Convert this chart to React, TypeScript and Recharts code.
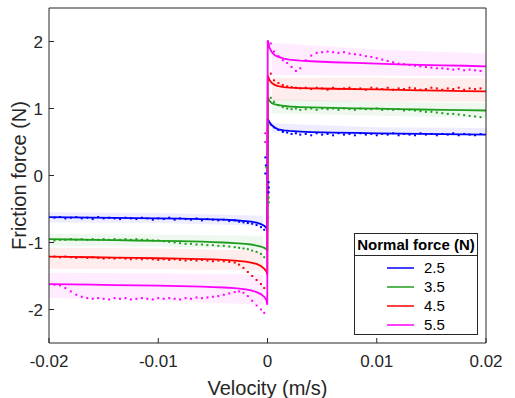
import { ComposedChart, Line, Area, Scatter, XAxis, YAxis, Label } from 'recharts';

// velocity grid of the fitted friction model (m/s)
const velocity = [
  -0.02, -0.018, -0.016, -0.014, -0.012, -0.01, -0.008, -0.006, -0.005, -0.004, -0.003, -0.002, -0.0015, -0.001, -0.0006, -0.0003, -0.0001, -0.00002,
  0.00002, 0.0002, 0.0004, 0.0007, 0.001, 0.0015, 0.002, 0.003, 0.004, 0.006, 0.008, 0.01, 0.012, 0.014, 0.016, 0.018, 0.02,
];

// model curves, one per normal force
const fitBlue = [
  -0.62, -0.624, -0.628, -0.632, -0.636, -0.64, -0.645, -0.65, -0.655, -0.66, -0.668, -0.68, -0.69, -0.705, -0.725, -0.75, -0.78, -0.82,
  0.85, 0.79, 0.75, 0.71, 0.69, 0.675, 0.665, 0.655, 0.648, 0.64, 0.635, 0.63, 0.626, 0.622, 0.618, 0.614, 0.61,
];
const fitGreen = [
  -0.95, -0.955, -0.96, -0.965, -0.97, -0.975, -0.98, -0.988, -0.993, -1.0, -1.008, -1.02, -1.03, -1.045, -1.06, -1.08, -1.1, -1.13,
  1.17, 1.11, 1.08, 1.06, 1.05, 1.04, 1.03, 1.022, 1.016, 1.01, 1.003, 0.997, 0.99, 0.985, 0.98, 0.975, 0.97,
];
const fitRed = [
  -1.21, -1.215, -1.22, -1.225, -1.23, -1.235, -1.24, -1.248, -1.253, -1.26, -1.27, -1.285, -1.3, -1.32, -1.35, -1.39, -1.43, -1.48,
  1.49, 1.42, 1.38, 1.35, 1.335, 1.32, 1.312, 1.305, 1.3, 1.295, 1.29, 1.284, 1.278, 1.272, 1.266, 1.26, 1.255,
];
const fitMagenta = [
  -1.62, -1.625, -1.63, -1.635, -1.64, -1.645, -1.65, -1.66, -1.665, -1.672, -1.682, -1.7, -1.715, -1.74, -1.77, -1.81, -1.86, -1.93,
  2.02, 1.9, 1.84, 1.79, 1.77, 1.745, 1.73, 1.715, 1.705, 1.69, 1.68, 1.67, 1.66, 1.652, 1.645, 1.638, 1.63,
];

// confidence bands (first 3 = negative side, last 3 = positive side)
const bandV = [-0.02, -0.01, -0.0004, 0.0004, 0.01, 0.02];
const blueLo = [-0.7, -0.71, -0.75, 0.64, 0.63, 0.62];
const blueHi = [-0.55, -0.56, -0.6, 0.78, 0.72, 0.71];
const greenLo = [-1.05, -1.06, -1.1, 0.93, 0.89, 0.86];
const greenHi = [-0.87, -0.88, -0.9, 1.14, 1.1, 1.08];
const redLo = [-1.39, -1.4, -1.42, 1.12, 1.1, 1.1];
const redHi = [-1.08, -1.09, -1.12, 1.46, 1.46, 1.45];
const magentaLo = [-1.83, -1.87, -1.93, 1.5, 1.49, 1.48];
const magentaHi = [-1.45, -1.46, -1.48, 1.98, 1.88, 1.82];

// measured points
const measVPos = [
  0.0003, 0.0006, 0.001, 0.0014, 0.0018, 0.0022, 0.0026, 0.003, 0.0035, 0.004, 0.0045, 0.005, 0.0055, 0.006, 0.0065, 0.007, 0.0075, 0.008, 0.0085, 0.009,
  0.0095, 0.01, 0.0105, 0.011, 0.0115, 0.012, 0.0125, 0.013, 0.0135, 0.014, 0.0145, 0.015, 0.0155, 0.016, 0.0165, 0.017, 0.0175, 0.018, 0.0185, 0.019, 0.0195,
];
const measVNeg = [
  -0.0195, -0.019, -0.0185, -0.018, -0.0175, -0.017, -0.0165, -0.016, -0.0155, -0.015, -0.0145, -0.014, -0.0135, -0.013, -0.0125, -0.012, -0.0115, -0.011, -0.0105, -0.01,
  -0.0095, -0.009, -0.0085, -0.008, -0.0075, -0.007, -0.0065, -0.006, -0.0055, -0.005, -0.0045, -0.004, -0.0035, -0.003, -0.0026, -0.0022, -0.0018, -0.0014, -0.001, -0.0006, -0.0003,
];
const measBluePos = [
  0.76, 0.72, 0.68, 0.65, 0.64, 0.62, 0.63, 0.61, 0.62, 0.6, 0.63, 0.61, 0.62, 0.6, 0.63, 0.61, 0.62, 0.6, 0.63, 0.61,
  0.62, 0.6, 0.62, 0.61, 0.63, 0.6, 0.62, 0.61, 0.6, 0.63, 0.61, 0.62, 0.6, 0.62, 0.61, 0.63, 0.6, 0.62, 0.61, 0.6, 0.62,
];
const measBlueNeg = [
  -0.63, -0.62, -0.64, -0.63, -0.62, -0.64, -0.63, -0.65, -0.62, -0.64, -0.63, -0.64, -0.65, -0.63, -0.64, -0.65, -0.63, -0.64, -0.66, -0.64,
  -0.65, -0.63, -0.66, -0.64, -0.65, -0.66, -0.64, -0.67, -0.65, -0.66, -0.67, -0.66, -0.68, -0.67, -0.69, -0.7, -0.71, -0.72, -0.74, -0.77, -0.81,
];
const measGreenPos = [
  1.16, 1.1, 1.05, 1.02, 1.0, 0.99, 1.0, 0.98, 0.99, 1.0, 0.98, 1.0, 0.99, 1.0, 0.98, 1.0, 0.99, 0.98, 1.0, 0.99,
  0.99, 1.0, 0.98, 0.99, 0.98, 0.99, 0.97, 0.98, 0.97, 0.96, 0.95, 0.95, 0.94, 0.93, 0.92, 0.92, 0.91, 0.9, 0.89, 0.88, 0.87,
];
const measGreenNeg = [
  -0.97, -0.96, -0.96, -0.95, -0.96, -0.95, -0.96, -0.95, -0.96, -0.95, -0.96, -0.95, -0.96, -0.95, -0.96, -0.95, -0.96, -0.96, -0.97, -0.97,
  -0.98, -0.99, -1.0, -1.01, -1.02, -1.02, -1.03, -1.03, -1.04, -1.04, -1.05, -1.05, -1.06, -1.07, -1.08, -1.09, -1.1, -1.12, -1.14, -1.17, -1.22,
];
const measRedPos = [
  1.52, 1.42, 1.38, 1.35, 1.33, 1.32, 1.31, 1.3, 1.31, 1.29, 1.31, 1.3, 1.28, 1.31, 1.29, 1.3, 1.31, 1.29, 1.3, 1.28,
  1.31, 1.3, 1.29, 1.31, 1.28, 1.3, 1.29, 1.31, 1.3, 1.28, 1.29, 1.31, 1.3, 1.28, 1.3, 1.29, 1.31, 1.28, 1.3, 1.29, 1.3,
];
const measRedNeg = [
  -1.21, -1.22, -1.21, -1.22, -1.23, -1.22, -1.23, -1.22, -1.23, -1.24, -1.23, -1.24, -1.23, -1.24, -1.25, -1.24, -1.25, -1.24, -1.25, -1.26,
  -1.25, -1.26, -1.25, -1.26, -1.27, -1.26, -1.27, -1.26, -1.27, -1.28, -1.27, -1.28, -1.29, -1.3, -1.33, -1.38, -1.44, -1.5, -1.56, -1.62, -1.68,
];
const measMagentaPos = [
  1.97, 1.85, 1.78, 1.72, 1.68, 1.62, 1.56, 1.6, 1.72, 1.79, 1.83, 1.84, 1.85, 1.84, 1.83, 1.84, 1.82, 1.81, 1.8, 1.78,
  1.77, 1.75, 1.73, 1.71, 1.69, 1.67, 1.66, 1.65, 1.64, 1.63, 1.62, 1.61, 1.6, 1.6, 1.59, 1.58, 1.59, 1.57, 1.58, 1.57, 1.56,
];
const measMagentaNeg = [
  -1.63, -1.64, -1.68, -1.73, -1.78, -1.81, -1.83, -1.84, -1.83, -1.84, -1.85, -1.83, -1.84, -1.83, -1.85, -1.84, -1.83, -1.84, -1.85, -1.83,
  -1.84, -1.83, -1.84, -1.85, -1.83, -1.84, -1.82, -1.83, -1.82, -1.81, -1.8, -1.78, -1.76, -1.74, -1.73, -1.75, -1.8, -1.87, -1.94, -2.0, -2.05,
];

// points recorded around zero velocity
const zeroBlueV = [-0.0002, -0.00015, -0.0002, 0.0001, 0.00012, 0.0001];
const zeroBlueF = [0.27, 0.15, 0.03, -0.1, -0.18, -0.25];
const zeroGreenV = [-0.0001, 0.0001, 0.00012];
const zeroGreenF = [0.12, -0.33, -0.4];
const zeroMagentaV = [-0.0002, -0.0002, 0.00005];
const zeroMagentaF = [0.63, 0.5, -0.63];

const forces = ['2.5', '3.5', '4.5', '5.5'];
const colors = ['#0000ff', '#1e9e1e', '#ff0000', '#ff00ff'];
const xTicks = [-0.02, -0.01, 0, 0.01, 0.02];
const yTicks = [-2, -1, 0, 1, 2];

const FONT = '"Liberation Sans", Arial, Helvetica, sans-serif';
const AXIS = '#262626';

const fitRows = velocity.map((v, i) => ({ v, f0: fitBlue[i], f1: fitGreen[i], f2: fitRed[i], f3: fitMagenta[i] }));

const bandRows = (lo: number[], hi: number[]) => bandV.map((v, i) => ({ v, band: [lo[i], hi[i]] }));
const bands = [bandRows(blueLo, blueHi), bandRows(greenLo, greenHi), bandRows(redLo, redHi), bandRows(magentaLo, magentaHi)];

const pts = (vs: number[], fs: number[]) => vs.map((v, i) => ({ v, f: fs[i] }));
const measured = [
  [...pts(measVNeg, measBlueNeg), ...pts(zeroBlueV, zeroBlueF), ...pts(measVPos, measBluePos)],
  [...pts(measVNeg, measGreenNeg), ...pts(zeroGreenV, zeroGreenF), ...pts(measVPos, measGreenPos)],
  [...pts(measVNeg, measRedNeg), ...pts(measVPos, measRedPos)],
  [...pts(measVNeg, measMagentaNeg), ...pts(zeroMagentaV, zeroMagentaF), ...pts(measVPos, measMagentaPos)],
];

const dot = (color: string) => (p: any) =>
  p.cx == null ? <g /> : <rect x={p.cx - 1} y={p.cy - 1} width={2} height={2} fill={color} />;

const YLabel = ({ viewBox }: any) => {
  const cx = viewBox.x + 19;
  const cy = viewBox.y + viewBox.height / 2;
  return (
    <text x={cx} y={cy} transform={`rotate(-90 ${cx} ${cy})`} textAnchor="middle" dominantBaseline="central"
      fontSize={20} fontFamily={FONT} fill={AXIS}>
      Friction force (N)
    </text>
  );
};

// MATLAB-style boxed legend with a title row
const LegendBox = () => (
  <div style={{ position: 'absolute', left: 354, top: 233, border: `1px solid ${AXIS}`, background: '#fff', fontFamily: FONT, boxSizing: 'border-box', width: 124, height: 102 }}>
    <div style={{ height: 21, borderBottom: `1px solid ${AXIS}`, fontWeight: 'bold', fontSize: 15, textAlign: 'center', lineHeight: '21px', color: '#000' }}>
      Normal force (N)
    </div>
    <div style={{ paddingTop: 2 }}>
      {forces.map((name, k) => (
        <div key={name} style={{ height: 19, display: 'flex', alignItems: 'center' }}>
          <svg width={27} height={4} style={{ marginLeft: 32, display: 'block' }}>
            <line x1={0} y1={2} x2={27} y2={2} stroke={colors[k]} strokeWidth={1.5} />
          </svg>
          <span style={{ marginLeft: 10, fontSize: 15, color: '#000' }}>{name}</span>
        </div>
      ))}
    </div>
  </div>
);

export default function App() {
  const tickStyle = { fontSize: 17, fill: AXIS, fontFamily: FONT };
  return (
    <div style={{ position: 'absolute', left: 0, top: 0, width: 515, height: 398, background: '#fff' }}>
      <ComposedChart width={515} height={398} data={fitRows} margin={{ top: 0, right: 0, bottom: 0, left: 0 }}>
        <XAxis dataKey="v" type="number" domain={[-0.02, 0.02]} ticks={xTicks} allowDataOverflow height={55}
          tick={tickStyle} tickSize={-5} tickMargin={17} axisLine={{ stroke: AXIS }} tickLine={{ stroke: AXIS }}
          label={{ value: 'Velocity (m/s)', position: 'insideBottom', offset: 3, fontSize: 20, fill: AXIS, fontFamily: FONT }} />
        <XAxis xAxisId="top" orientation="top" dataKey="v" type="number" domain={[-0.02, 0.02]} ticks={xTicks} allowDataOverflow height={8}
          tick={false} tickSize={-5} axisLine={{ stroke: AXIS }} tickLine={{ stroke: AXIS }} />
        <YAxis type="number" domain={[-2.5, 2.5]} ticks={yTicks} allowDataOverflow width={49}
          tick={tickStyle} tickSize={-5} tickMargin={11} axisLine={{ stroke: AXIS }} tickLine={{ stroke: AXIS }}>
          <Label content={<YLabel />} />
        </YAxis>
        <YAxis yAxisId="right" orientation="right" type="number" domain={[-2.5, 2.5]} ticks={yTicks} allowDataOverflow width={29}
          tick={false} tickSize={-5} axisLine={{ stroke: AXIS }} tickLine={{ stroke: AXIS }} />
        {bands.map((rows, k) => (
          <Area key={`bn${k}`} data={rows.slice(0, 3)} dataKey="band" type="linear" stroke="none" fill={colors[k]} fillOpacity={0.07}
            legendType="none" isAnimationActive={false} activeDot={false} />
        ))}
        {bands.map((rows, k) => (
          <Area key={`bp${k}`} data={rows.slice(3)} dataKey="band" type="linear" stroke="none" fill={colors[k]} fillOpacity={0.07}
            legendType="none" isAnimationActive={false} activeDot={false} />
        ))}
        {measured.map((rows, k) => (
          <Scatter key={`m${k}`} data={rows} dataKey="f" shape={dot(colors[k])} legendType="none" isAnimationActive={false} />
        ))}
        {forces.map((name, k) => (
          <Line key={name} name={name} dataKey={`f${k}`} type="linear" stroke={colors[k]} strokeWidth={1.8} dot={false}
            activeDot={false} isAnimationActive={false} />
        ))}
      </ComposedChart>
      <LegendBox />
    </div>
  );
}
